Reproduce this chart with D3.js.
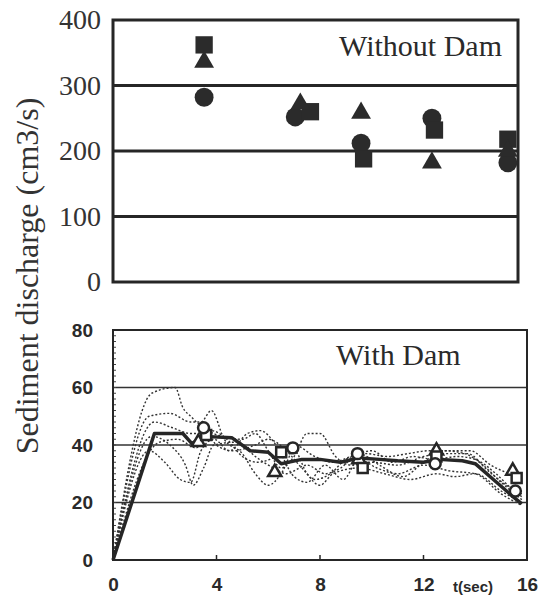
<!DOCTYPE html>
<html>
<head>
<meta charset="utf-8">
<script src="https://cdn.jsdelivr.net/npm/d3@7"></script>
<style>
  body { margin: 0; background: #fff; }
  svg { display: block; }
</style>
</head>
<body>
<div id="chart"></div>
<script>
// tick labels
const timeTicks = [0, 4, 8, 12, 16]
const topTicks = [0, 100, 200, 300, 400]
const botTicks = [0, 20, 40, 60, 80]

// upper panel (without dam): discharge per run, filled markers
const topCircleT = [3.6, 7.2, 9.8, 12.6, 15.6]
const topCircle = [282, 252, 212, 250, 182]
const topSquareT = [3.6, 7.8, 9.9, 12.7, 15.6]
const topSquare = [362, 260, 188, 232, 218]
const topTriangleT = [3.6, 7.4, 9.8, 12.6, 15.6]
const topTriangle = [336, 272, 258, 182, 200]

// lower panel (with dam): time series [t, value]
const meanLine = [[0, 0], [1.6, 44], [2.7, 44], [3.05, 40.5], [3.5, 43], [4.6, 42.5], [5.3, 38], [6.0, 37.5], [6.5, 33.5],
  [7.3, 35], [8.0, 35], [8.8, 34], [9.5, 35.5], [10.3, 35], [11.0, 34.5], [12.0, 34], [12.6, 35], [13.5, 34.5],
  [14.0, 33.5], [14.7, 28], [15.4, 22.5], [15.8, 19.5]]
const runA = [[0, 0], [1.5, 58], [2.4, 60], [2.7, 53], [3.0, 50], [3.5, 46], [4.2, 43], [5.0, 42], [5.5, 44], [6.0, 38],
  [6.5, 32], [7.0, 36], [7.5, 44], [8.0, 44], [8.6, 36], [9.2, 33], [10.0, 34], [11.0, 33], [12.0, 36], [13.0, 37],
  [13.7, 37], [14.5, 31], [15.2, 26], [15.8, 23]]
const runB = [[0, 0], [1.4, 50], [2.2, 51], [3.0, 48], [3.4, 48], [3.8, 52], [4.3, 42], [5.0, 37], [5.5, 30], [6.0, 26],
  [6.5, 30], [7.0, 38], [7.5, 30], [8.0, 26], [8.5, 30], [9.5, 32], [10.5, 30], [11.5, 28], [12.5, 30], [13.2, 29],
  [14.0, 30], [15.0, 24], [15.8, 20]]
const runC = [[0, 0], [1.4, 38], [2.0, 34], [2.6, 28], [3.0, 27], [3.4, 38], [3.9, 42], [4.5, 38], [5.2, 44], [5.7, 45],
  [6.3, 40], [7.0, 29], [7.5, 27], [8.2, 33], [8.9, 28], [9.5, 35], [10.2, 32], [11.0, 30], [12.0, 33], [13.0, 31],
  [14.0, 30], [15.0, 23], [15.8, 19]]
const runD = [[0, 0], [1.5, 43], [2.2, 40], [2.8, 33], [3.1, 26], [3.5, 32], [3.9, 40], [4.8, 41], [5.5, 36], [6.2, 32],
  [6.7, 30], [7.5, 33], [8.2, 30], [8.8, 32], [9.5, 37], [10.3, 33], [11.2, 29], [12.0, 34], [12.8, 38], [13.6, 37],
  [14.3, 33], [15.0, 27], [15.8, 21]]
const runE = [[0, 0], [1.6, 48], [2.3, 46], [3.0, 44], [3.6, 44], [4.0, 40], [4.6, 38], [5.5, 40], [6.0, 42], [6.7, 38],
  [7.3, 32], [7.8, 28], [8.4, 30], [9.0, 35], [9.8, 37], [10.6, 36], [11.4, 37], [12.2, 38], [13.0, 38], [13.8, 38],
  [14.6, 33], [15.3, 30], [15.8, 28]]
const runF = [[0, 0], [1.8, 41], [2.5, 42], [3.2, 39], [3.8, 45], [4.4, 42], [5.0, 36], [5.6, 34], [6.3, 36], [7.0, 40],
  [7.8, 36], [8.5, 34], [9.2, 36], [10.0, 38], [10.8, 34], [11.6, 36], [12.4, 35], [13.3, 36], [14.0, 35], [14.8, 30],
  [15.5, 24], [15.8, 22]]
const runs = [runA, runB, runC, runD, runE, runF]

// lower panel open markers
const botCircleT = [3.5, 6.95, 9.45, 12.45, 15.55]
const botCircle = [46, 39, 37, 33.5, 24]
const botSquareT = [3.6, 6.5, 9.65, 12.5, 15.6]
const botSquare = [43.5, 37.5, 32, 36, 28.5]
const botTriangleT = [3.3, 6.25, 9.5, 12.5, 15.45]
const botTriangle = [41, 30.5, 35, 38, 31]

const W = 544
const H = 601
const ink = '#262626'
const serif = '"Liberation Serif", "DejaVu Serif", serif'

const svg = d3.select('#chart').append('svg')
  .attr('width', W)
  .attr('height', H)
  .attr('viewBox', `0 0 ${W} ${H}`)

// ---------- upper panel ----------
const xTop = d3.scaleLinear().domain([0, 16]).range([113, 518])
const yTop = d3.scaleLinear().domain([0, 400]).range([282, 20])

const topG = svg.append('g')

topG.append('g')
  .attr('transform', `translate(${xTop.range()[0]},0)`)
  .call(d3.axisLeft(yTop).tickValues(topTicks).tickSize(0).tickPadding(12))
  .call(g => g.select('.domain').remove())
  .call(g => g.selectAll('text')
    .attr('fill', '#333')
    .style('font-family', serif)
    .style('font-size', '28px'))

topG.selectAll('line.grid')
  .data([100, 200, 300])
  .enter().append('line')
  .attr('class', 'grid')
  .attr('x1', xTop.range()[0]).attr('x2', xTop.range()[1])
  .attr('y1', d => yTop(d)).attr('y2', d => yTop(d))
  .attr('stroke', ink).attr('stroke-width', 3)

topG.append('rect')
  .attr('x', xTop.range()[0]).attr('y', yTop(400))
  .attr('width', xTop.range()[1] - xTop.range()[0])
  .attr('height', yTop(0) - yTop(400))
  .attr('fill', 'none').attr('stroke', ink).attr('stroke-width', 3)

topG.append('text')
  .attr('x', 502).attr('y', 56)
  .attr('text-anchor', 'end')
  .attr('fill', '#2a2a2a')
  .style('font-family', serif)
  .style('font-size', '30px')
  .text('Without Dam')

function topMarkers (type, ts, vs, size) {
  topG.selectAll(null)
    .data(vs)
    .enter().append('path')
    .attr('d', d3.symbol().type(type).size(size))
    .attr('transform', (d, i) => `translate(${xTop(ts[i])},${yTop(d)})`)
    .attr('fill', '#2b2b2b')
}
topMarkers(d3.symbolCircle, topCircleT, topCircle, 280)
topMarkers(d3.symbolSquare, topSquareT, topSquare, 300)
topMarkers(d3.symbolTriangle, topTriangleT, topTriangle, 170)

// ---------- lower panel ----------
const xBot = d3.scaleLinear().domain([0, 16]).range([113, 527])
const yBot = d3.scaleLinear().domain([0, 80]).range([560, 330])

const botG = svg.append('g')

botG.selectAll('line.grid')
  .data([20, 40, 60])
  .enter().append('line')
  .attr('class', 'grid')
  .attr('x1', xBot.range()[0]).attr('x2', xBot.range()[1])
  .attr('y1', d => yBot(d)).attr('y2', d => yBot(d))
  .attr('stroke', '#333').attr('stroke-width', 1.5)

// minor ticks on the left axis
botG.selectAll('line.minor')
  .data(d3.range(2, 80, 2))
  .enter().append('line')
  .attr('class', 'minor')
  .attr('x1', xBot.range()[0]).attr('x2', xBot.range()[0] + 3)
  .attr('y1', d => yBot(d)).attr('y2', d => yBot(d))
  .attr('stroke', '#444').attr('stroke-width', 1)

// small ticks on the time axis
botG.selectAll('line.xtick')
  .data([4, 8, 12])
  .enter().append('line')
  .attr('class', 'xtick')
  .attr('x1', d => xBot(d)).attr('x2', d => xBot(d))
  .attr('y1', yBot(0)).attr('y2', yBot(0) - 5)
  .attr('stroke', ink).attr('stroke-width', 1.5)

const line = d3.line().x(d => xBot(d[0])).y(d => yBot(d[1])).curve(d3.curveMonotoneX)

botG.selectAll('path.run')
  .data(runs)
  .enter().append('path')
  .attr('class', 'run')
  .attr('d', line)
  .attr('fill', 'none')
  .attr('stroke', '#333')
  .attr('stroke-width', 1.4)
  .attr('stroke-dasharray', '2,2')

botG.append('path')
  .datum(meanLine)
  .attr('d', d3.line().x(d => xBot(d[0])).y(d => yBot(d[1])))
  .attr('fill', 'none')
  .attr('stroke', ink)
  .attr('stroke-width', 3.5)
  .attr('stroke-linejoin', 'round')

function botMarkers (type, ts, vs, size) {
  botG.selectAll(null)
    .data(vs)
    .enter().append('path')
    .attr('d', d3.symbol().type(type).size(size))
    .attr('transform', (d, i) => `translate(${xBot(ts[i])},${yBot(d)})`)
    .attr('fill', '#fff')
    .attr('stroke', ink)
    .attr('stroke-width', 2.5)
}
botMarkers(d3.symbolTriangle, botTriangleT, botTriangle, 75)
botMarkers(d3.symbolSquare, botSquareT, botSquare, 100)
botMarkers(d3.symbolCircle, botCircleT, botCircle, 95)

botG.append('rect')
  .attr('x', xBot.range()[0]).attr('y', yBot(80))
  .attr('width', xBot.range()[1] - xBot.range()[0])
  .attr('height', yBot(0) - yBot(80))
  .attr('fill', 'none').attr('stroke', ink).attr('stroke-width', 2)

const sansBold = g => g.selectAll('text')
  .attr('fill', '#2a2a2a')
  .style('font-family', '"Liberation Sans", Arial, sans-serif')
  .style('font-weight', 'bold')
  .style('font-size', '19px')

botG.append('g')
  .attr('transform', `translate(${xBot.range()[0]},0)`)
  .call(d3.axisLeft(yBot).tickValues(botTicks).tickSize(0).tickPadding(20))
  .call(g => g.select('.domain').remove())
  .call(sansBold)

botG.append('g')
  .attr('transform', `translate(0,${yBot(0)})`)
  .call(d3.axisBottom(xBot).tickValues(timeTicks).tickSize(0).tickPadding(18))
  .call(g => g.select('.domain').remove())
  .call(sansBold)

botG.append('text')
  .attr('x', 473).attr('y', 592)
  .attr('text-anchor', 'middle')
  .attr('fill', '#2a2a2a')
  .style('font-family', '"Liberation Sans", Arial, sans-serif')
  .style('font-weight', 'bold')
  .style('font-size', '15px')
  .text('t(sec)')

botG.append('text')
  .attr('x', 336).attr('y', 365)
  .attr('fill', '#2a2a2a')
  .style('font-family', serif)
  .style('font-size', '30px')
  .text('With Dam')

// shared y title
svg.append('text')
  .attr('transform', 'translate(38,276) rotate(-90)')
  .attr('text-anchor', 'middle')
  .attr('fill', '#333')
  .style('font-family', serif)
  .style('font-size', '32px')
  .text('Sediment discharge (cm3/s)')
</script>
</body>
</html>
